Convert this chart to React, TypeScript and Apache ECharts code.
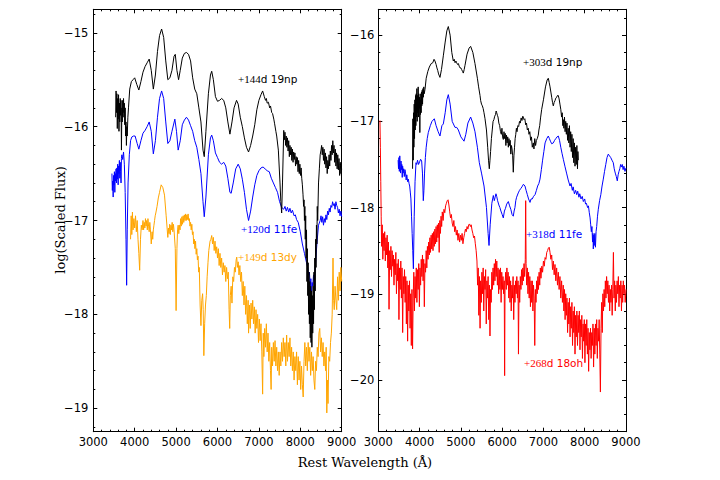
import React, { useEffect, useRef } from "react";
import * as echarts from "echarts";

// ---------- data (wavelength Å, log flux) ----------
const L_19NP: [number, number][] = [
  [3540,-15.9],[3550,-15.62],[3560,-15.85],[3570,-15.65],[3580,-16.02],[3590,-15.7],[3600,-15.92],[3610,-15.66],
  [3620,-16.05],[3630,-15.75],[3640,-15.95],[3650,-15.7],[3660,-15.88],[3670,-15.72],[3680,-16.25],[3690,-15.8],
  [3700,-15.95],[3710,-15.72],[3720,-15.9],[3730,-15.7],[3740,-15.85],[3750,-15.75],[3760,-15.98],[3770,-15.8],
  [3780,-16.1],[3790,-15.95],[3800,-16.2],[3810,-16.0],[3820,-16.1],[3835,-15.9],[3850,-15.8],[3880,-15.6],
  [3920,-15.52],[3960,-15.5],[4000,-15.48],[4050,-15.55],[4100,-15.61],[4150,-15.52],[4200,-15.42],[4250,-15.36],
  [4300,-15.32],[4350,-15.28],[4400,-15.4],[4450,-15.6],[4500,-15.45],[4550,-15.2],[4600,-15.03],[4650,-14.96],
  [4700,-15.05],[4750,-15.3],[4800,-15.5],[4850,-15.48],[4900,-15.4],[4950,-15.25],[4980,-15.23],[5020,-15.4],
  [5060,-15.5],[5100,-15.4],[5150,-15.27],[5200,-15.22],[5250,-15.21],[5300,-15.23],[5350,-15.3],[5400,-15.48],
  [5450,-15.6],[5500,-15.65],[5550,-15.8],[5600,-15.95],[5650,-16.25],[5680,-16.32],[5720,-16.05],[5780,-15.65],
  [5830,-15.45],[5860,-15.41],[5900,-15.5],[5950,-15.68],[6000,-15.73],[6050,-15.72],[6100,-15.7],[6150,-15.72],
  [6200,-15.8],[6250,-15.95],[6300,-16.08],[6350,-15.95],[6400,-15.8],[6460,-15.72],[6500,-15.76],[6550,-15.9],
  [6600,-16.0],[6650,-16.12],[6700,-16.22],[6750,-16.27],[6800,-16.2],[6850,-16.1],[6900,-15.98],[6950,-15.82],
  [7000,-15.72],[7050,-15.66],[7090,-15.62],[7130,-15.68],[7160,-15.72],[7180,-15.7],[7200,-15.75],[7230,-15.74],
  [7260,-15.8],[7280,-15.78],[7310,-15.85],[7330,-15.86],[7360,-15.92],[7380,-15.97],[7410,-16.05],[7430,-16.1],
  [7470,-16.25],[7510,-16.6],[7530,-16.8],[7550,-16.92],[7570,-16.6],[7600,-16.04],[7615,-16.14],[7630,-16.06],
  [7645,-16.2],[7660,-16.1],[7675,-16.22],[7690,-16.12],[7705,-16.26],[7720,-16.15],[7735,-16.32],[7750,-16.2],
  [7765,-16.3],[7780,-16.22],[7795,-16.36],[7810,-16.24],[7825,-16.38],[7840,-16.27],[7855,-16.35],[7870,-16.28],
  [7885,-16.42],[7900,-16.32],[7915,-16.4],[7930,-16.33],[7945,-16.48],[7960,-16.36],[7975,-16.5],[7990,-16.4],
  [8005,-16.52],[8020,-16.44],[8035,-16.55],[8050,-16.62],[8065,-16.72],[8080,-16.85],[8090,-16.78],[8100,-17.0],
  [8110,-16.85],[8120,-17.2],[8130,-16.95],[8140,-17.4],[8150,-17.1],[8160,-17.65],[8170,-17.3],[8180,-17.8],
  [8190,-17.45],[8200,-18.0],[8210,-17.55],[8220,-18.1],[8230,-17.65],[8240,-18.25],[8250,-17.7],[8260,-18.3],
  [8270,-17.75],[8280,-18.35],[8290,-17.8],[8300,-18.2],[8310,-17.7],[8320,-18.1],[8330,-17.55],[8340,-17.95],
  [8350,-17.4],[8360,-17.75],[8370,-17.2],[8380,-17.5],[8390,-17.05],[8400,-17.25],[8410,-16.85],[8420,-17.0],
  [8440,-16.6],[8460,-16.45],[8480,-16.3],[8500,-16.25],[8515,-16.2],[8530,-16.3],[8545,-16.22],[8560,-16.36],
  [8575,-16.24],[8590,-16.4],[8605,-16.28],[8620,-16.44],[8635,-16.32],[8650,-16.5],[8665,-16.36],[8680,-16.45],
  [8695,-16.3],[8710,-16.42],[8725,-16.26],[8740,-16.36],[8755,-16.2],[8770,-16.3],[8785,-16.15],[8800,-16.28],
  [8815,-16.2],[8830,-16.38],[8845,-16.24],[8860,-16.42],[8875,-16.28],[8890,-16.45],[8905,-16.3],[8920,-16.46],
  [8935,-16.34],[8950,-16.52],[8965,-16.38],[8980,-16.5],[9000,-16.45]
];

const L_11FE: [number, number][] = [
  [3450,-16.5],[3460,-16.68],[3470,-16.58],[3480,-16.75],[3490,-16.52],[3500,-16.62],[3510,-16.48],[3520,-16.7],
  [3530,-16.5],[3540,-16.58],[3550,-16.45],[3560,-16.6],[3570,-16.44],[3580,-16.56],[3590,-16.4],[3600,-16.62],
  [3610,-16.42],[3620,-16.5],[3630,-16.36],[3640,-16.55],[3650,-16.38],[3660,-16.48],[3670,-16.6],[3680,-16.34],
  [3690,-16.3],[3710,-16.35],[3730,-16.27],[3750,-16.4],[3770,-16.7],[3790,-17.2],[3805,-17.69],[3820,-17.1],
  [3840,-16.6],[3870,-16.3],[3900,-16.15],[3930,-16.11],[3970,-16.1],[4010,-16.1],[4060,-16.18],[4100,-16.24],
  [4150,-16.15],[4200,-16.07],[4250,-16.04],[4300,-16.0],[4350,-15.95],[4400,-16.05],[4450,-16.29],[4500,-16.15],
  [4550,-15.9],[4600,-15.7],[4650,-15.62],[4700,-15.7],[4750,-15.95],[4800,-16.18],[4850,-16.15],[4900,-16.05],
  [4970,-15.92],[5010,-16.05],[5050,-16.25],[5100,-16.15],[5150,-15.98],[5200,-15.93],[5250,-15.9],[5300,-15.93],
  [5350,-15.99],[5400,-16.05],[5450,-16.15],[5500,-16.22],[5550,-16.35],[5600,-16.5],[5650,-16.8],[5680,-16.96],
  [5720,-16.75],[5780,-16.3],[5830,-16.12],[5860,-16.09],[5900,-16.15],[5950,-16.28],[6000,-16.33],[6050,-16.38],
  [6100,-16.4],[6150,-16.38],[6200,-16.42],[6250,-16.55],[6300,-16.7],[6330,-16.71],[6380,-16.6],[6440,-16.45],
  [6500,-16.4],[6550,-16.45],[6600,-16.56],[6650,-16.7],[6700,-16.88],[6750,-17.0],[6800,-16.9],[6850,-16.75],
  [6900,-16.62],[6950,-16.52],[7000,-16.47],[7050,-16.44],[7100,-16.43],[7150,-16.45],[7200,-16.47],[7250,-16.48],
  [7300,-16.55],[7350,-16.6],[7400,-16.65],[7450,-16.7],[7500,-16.8],[7550,-16.86],[7600,-16.88],[7630,-16.85],
  [7660,-16.9],[7690,-16.86],[7720,-16.91],[7750,-16.87],[7780,-16.92],[7810,-16.89],[7850,-16.95],[7880,-16.94],
  [7910,-16.99],[7950,-17.02],[8000,-17.12],[8050,-17.25],[8100,-17.35],[8150,-17.45],[8180,-17.5],[8200,-17.58],
  [8220,-17.55],[8240,-17.7],[8255,-17.62],[8270,-17.78],[8285,-17.66],[8300,-17.7],[8320,-17.58],[8340,-17.64],
  [8370,-17.45],[8400,-17.25],[8440,-17.05],[8480,-17.0],[8500,-16.95],[8520,-17.02],[8540,-16.96],[8560,-17.05],
  [8580,-16.98],[8600,-17.02],[8620,-16.94],[8640,-16.99],[8660,-16.9],[8680,-16.94],[8700,-16.87],[8720,-16.91],
  [8740,-16.84],[8760,-16.86],[8780,-16.8],[8800,-16.84],[8820,-16.82],[8840,-16.88],[8860,-16.8],[8880,-16.84],
  [8900,-16.86],[8920,-16.92],[8940,-16.88],[8960,-16.95],[8980,-16.9],[9000,-16.96]
];

const L_13DY: [number, number][] = [
  [3900,-17.2],[3915,-16.95],[3930,-17.15],[3945,-16.91],[3960,-17.1],[3980,-16.98],[4000,-17.08],[4020,-16.95],
  [4040,-17.12],[4060,-17.0],[4080,-17.2],[4100,-17.35],[4120,-17.53],[4140,-17.2],[4160,-17.05],[4180,-17.1],
  [4200,-17.0],[4215,-17.1],[4230,-17.02],[4245,-17.08],[4260,-16.98],[4275,-17.06],[4290,-17.0],[4305,-17.1],
  [4320,-16.98],[4335,-17.06],[4350,-17.12],[4365,-17.02],[4380,-17.1],[4400,-17.25],[4420,-17.12],[4435,-17.2],
  [4450,-17.1],[4465,-17.05],[4480,-17.0],[4495,-16.95],[4510,-16.92],[4540,-16.85],[4570,-16.76],[4600,-16.7],
  [4640,-16.62],[4680,-16.65],[4720,-16.73],[4760,-16.95],[4800,-17.18],[4815,-17.08],[4830,-17.14],[4845,-17.04],
  [4860,-17.15],[4875,-17.05],[4890,-17.1],[4905,-17.02],[4920,-17.12],[4935,-17.04],[4950,-17.1],[4980,-17.3],
  [5000,-17.96],[5020,-17.3],[5035,-17.1],[5050,-17.05],[5065,-17.14],[5080,-17.05],[5095,-17.1],[5110,-16.98],
  [5125,-17.06],[5140,-16.96],[5155,-17.04],[5170,-16.95],[5185,-17.02],[5200,-16.94],[5215,-17.0],[5230,-16.93],
  [5245,-17.0],[5260,-16.94],[5275,-16.99],[5290,-16.93],[5305,-17.0],[5320,-16.98],[5335,-17.06],[5350,-17.02],
  [5365,-17.1],[5380,-17.04],[5395,-17.15],[5410,-17.12],[5425,-17.25],[5440,-17.2],[5455,-17.3],[5470,-17.22],
  [5485,-17.36],[5500,-17.3],[5515,-17.42],[5530,-17.38],[5545,-17.55],[5560,-17.5],[5580,-17.9],[5600,-18.12],
  [5620,-17.85],[5640,-17.78],[5655,-17.95],[5670,-18.44],[5690,-18.1],[5710,-17.9],[5730,-17.8],[5750,-17.6],
  [5770,-17.45],[5790,-17.32],[5820,-17.22],[5840,-17.2],[5860,-17.16],[5880,-17.25],[5900,-17.18],[5920,-17.32],
  [5940,-17.22],[5960,-17.35],[5980,-17.28],[6000,-17.4],[6020,-17.3],[6040,-17.48],[6060,-17.35],[6080,-17.5],
  [6100,-17.4],[6120,-17.58],[6140,-17.45],[6160,-17.55],[6180,-17.48],[6200,-17.65],[6220,-17.5],[6240,-17.62],
  [6260,-17.55],[6280,-17.95],[6295,-18.15],[6310,-17.8],[6330,-17.7],[6350,-17.88],[6370,-17.6],[6390,-17.65],
  [6410,-17.5],[6430,-17.55],[6450,-17.42],[6465,-17.39],[6480,-17.5],[6500,-17.44],[6520,-17.58],[6540,-17.48],
  [6560,-17.65],[6580,-17.55],[6600,-17.8],[6620,-17.65],[6640,-17.9],[6660,-17.7],[6680,-18.0],[6700,-17.8],
  [6720,-18.1],[6740,-17.85],[6750,-18.2],[6770,-17.9],[6790,-18.15],[6810,-17.88],[6830,-18.05],[6850,-17.85],
  [6870,-18.1],[6890,-17.92],[6910,-18.2],[6930,-17.95],[6950,-18.15],[6970,-18.0],[6990,-18.3],[7010,-18.05],
  [7030,-18.28],[7050,-18.1],[7070,-18.4],[7090,-18.85],[7105,-18.2],[7120,-18.45],[7140,-18.15],[7160,-18.35],
  [7180,-18.1],[7200,-18.4],[7220,-18.2],[7240,-18.5],[7260,-18.3],[7280,-18.6],[7295,-18.8],[7310,-18.35],
  [7330,-18.55],[7350,-18.3],[7370,-18.5],[7390,-18.28],[7410,-18.55],[7430,-18.35],[7450,-18.6],[7470,-18.4],
  [7490,-18.65],[7510,-18.4],[7530,-18.55],[7550,-18.3],[7570,-18.5],[7590,-18.25],[7610,-18.45],[7630,-18.3],
  [7650,-18.55],[7670,-18.22],[7690,-18.5],[7710,-18.3],[7730,-18.45],[7750,-18.25],[7770,-18.55],[7790,-18.35],
  [7810,-18.6],[7830,-18.4],[7850,-18.7],[7870,-18.45],[7890,-18.6],[7910,-18.4],[7930,-18.75],[7950,-18.45],
  [7970,-18.7],[7990,-18.5],[8010,-18.8],[8030,-18.55],[8050,-18.75],[8070,-18.88],[8090,-18.5],[8110,-18.3],
  [8130,-18.55],[8150,-18.35],[8170,-18.6],[8190,-18.3],[8210,-18.5],[8230,-18.35],[8250,-18.65],[8270,-18.4],
  [8290,-18.6],[8310,-18.45],[8330,-18.7],[8350,-18.8],[8370,-18.5],[8390,-18.6],[8410,-18.35],[8430,-18.45],
  [8450,-18.2],[8470,-18.15],[8490,-18.4],[8510,-18.25],[8530,-18.45],[8550,-18.3],[8570,-18.55],[8590,-18.4],
  [8610,-18.6],[8625,-18.35],[8640,-19.05],[8655,-18.7],[8670,-18.95],[8690,-18.45],[8710,-18.5],[8730,-18.3],
  [8750,-18.2],[8770,-18.0],[8790,-17.4],[8805,-17.85],[8820,-17.95],[8840,-17.7],[8860,-17.85],[8880,-17.95],
  [8900,-17.6],[8920,-17.85],[8940,-17.55],[8960,-17.75],[8980,-17.5],[9000,-17.65]
];

const R_19NP: [number, number][] = [
  [3830,-17.55],[3838,-16.97],[3846,-17.45],[3854,-16.9],[3862,-17.3],[3870,-16.8],[3878,-17.2],[3886,-16.75],
  [3894,-17.1],[3902,-16.7],[3910,-17.05],[3918,-16.68],[3926,-16.95],[3934,-16.62],[3942,-17.0],[3950,-16.7],
  [3958,-16.9],[3966,-16.6],[3974,-16.95],[3982,-16.68],[3990,-16.85],[3998,-16.72],[4006,-17.13],[4014,-16.75],
  [4022,-16.92],[4030,-16.68],[4038,-16.9],[4046,-16.66],[4054,-16.82],[4062,-16.64],[4072,-16.8],[4082,-16.62],
  [4092,-16.72],[4102,-16.6],[4112,-16.68],[4131,-16.63],[4160,-16.5],[4200,-16.42],[4236,-16.37],[4280,-16.33],
  [4320,-16.32],[4350,-16.28],[4373,-16.3],[4400,-16.34],[4420,-16.38],[4440,-16.41],[4460,-16.45],[4494,-16.49],
  [4530,-16.4],[4575,-16.24],[4620,-16.08],[4660,-15.95],[4696,-15.9],[4740,-16.0],[4780,-16.2],[4817,-16.3],
  [4840,-16.28],[4860,-16.32],[4880,-16.3],[4898,-16.32],[4920,-16.34],[4940,-16.33],[4960,-16.36],[4980,-16.38],
  [5000,-16.38],[5020,-16.4],[5040,-16.42],[5059,-16.44],[5080,-16.4],[5100,-16.35],[5150,-16.22],[5200,-16.15],
  [5237,-16.13],[5290,-16.2],[5342,-16.33],[5400,-16.5],[5430,-16.6],[5464,-16.7],[5480,-16.76],[5500,-16.8],
  [5520,-16.82],[5540,-16.85],[5560,-16.9],[5585,-16.97],[5620,-17.1],[5650,-17.3],[5670,-17.45],[5689,-17.55],
  [5705,-17.45],[5720,-17.35],[5740,-17.2],[5760,-17.1],[5780,-17.0],[5800,-16.98],[5820,-16.94],[5840,-16.92],
  [5855,-16.88],[5868,-16.9],[5885,-16.93],[5900,-16.95],[5920,-17.02],[5940,-17.05],[5960,-17.12],[5980,-17.15],
  [5995,-17.08],[6010,-17.18],[6028,-17.21],[6045,-17.12],[6060,-17.2],[6075,-17.14],[6090,-17.28],[6105,-17.16],
  [6120,-17.25],[6135,-17.18],[6150,-17.3],[6165,-17.2],[6180,-17.28],[6195,-17.22],[6210,-17.38],[6225,-17.28],
  [6240,-17.32],[6255,-17.4],[6270,-17.59],[6285,-17.4],[6300,-17.3],[6315,-17.2],[6330,-17.15],[6345,-17.08],
  [6360,-17.12],[6380,-17.05],[6400,-17.06],[6420,-17.0],[6440,-17.02],[6460,-16.96],[6480,-16.99],[6500,-16.94],
  [6512,-16.95],[6530,-16.98],[6550,-16.97],[6570,-17.04],[6590,-17.02],[6610,-17.1],[6633,-17.08],[6650,-17.15],
  [6670,-17.12],[6690,-17.22],[6710,-17.18],[6730,-17.3],[6755,-17.25],[6770,-17.32],[6790,-17.2],[6810,-17.28],
  [6830,-17.22],[6850,-17.2],[6875,-17.16],[6890,-17.1],[6910,-17.05],[6930,-16.96],[6958,-16.86],[7000,-16.75],
  [7050,-16.6],[7090,-16.52],[7118,-16.5],[7140,-16.55],[7160,-16.6],[7180,-16.66],[7200,-16.72],[7220,-16.78],
  [7239,-16.82],[7260,-16.78],[7280,-16.76],[7300,-16.73],[7320,-16.72],[7340,-16.7],[7360,-16.7],[7380,-16.74],
  [7400,-16.8],[7420,-16.86],[7440,-16.95],[7455,-16.9],[7470,-17.05],[7482,-16.98],[7495,-17.08],[7510,-16.95],
  [7525,-17.12],[7540,-17.0],[7555,-17.15],[7570,-17.02],[7585,-17.22],[7600,-17.08],[7615,-17.25],[7630,-17.05],
  [7645,-17.3],[7660,-17.12],[7675,-17.35],[7690,-17.15],[7705,-17.42],[7720,-17.2],[7735,-17.48],[7750,-17.25],
  [7765,-17.52],[7780,-17.3],[7795,-17.5],[7810,-17.28],[7825,-17.55],[7835,-17.35],[7845,-17.45]
];

const R_11FE: [number, number][] = [
  [3480,-17.45],[3490,-17.55],[3500,-17.42],[3510,-17.58],[3520,-17.4],[3530,-17.52],[3540,-17.6],[3550,-17.46],
  [3560,-17.56],[3570,-17.5],[3580,-17.65],[3590,-17.52],[3600,-17.6],[3615,-17.55],[3630,-17.64],[3645,-17.56],
  [3660,-17.6],[3675,-17.68],[3690,-17.62],[3710,-17.7],[3727,-17.67],[3745,-17.72],[3760,-17.75],[3775,-17.82],
  [3790,-17.9],[3805,-18.1],[3820,-18.3],[3835,-18.5],[3850,-18.71],[3870,-18.1],[3890,-17.7],[3913,-17.48],
  [3930,-17.5],[3950,-17.45],[3975,-17.5],[4000,-17.47],[4025,-17.44],[4050,-17.46],[4070,-17.6],[4090,-17.92],
  [4105,-17.8],[4120,-17.6],[4140,-17.42],[4160,-17.3],[4185,-17.2],[4211,-17.13],[4260,-17.05],[4300,-17.0],
  [4357,-16.97],[4400,-17.05],[4450,-17.12],[4494,-17.17],[4540,-17.05],[4575,-17.03],[4620,-16.9],[4660,-16.75],
  [4696,-16.69],[4740,-16.8],[4790,-17.0],[4858,-17.07],[4900,-17.07],[4939,-17.1],[5000,-17.18],[5076,-17.23],
  [5120,-17.15],[5170,-17.02],[5237,-16.95],[5290,-17.02],[5342,-17.12],[5400,-17.3],[5447,-17.48],[5500,-17.6],
  [5561,-17.75],[5620,-18.0],[5660,-18.3],[5682,-18.44],[5710,-18.2],[5750,-17.95],[5786,-17.86],[5810,-17.92],
  [5830,-17.88],[5850,-17.84],[5868,-17.87],[5890,-17.92],[5920,-17.97],[5945,-18.0],[5970,-18.04],[6000,-18.08],
  [6028,-18.12],[6055,-18.04],[6080,-18.01],[6110,-17.96],[6150,-17.93],[6180,-17.98],[6210,-18.02],[6240,-18.08],
  [6270,-18.1],[6290,-18.04],[6310,-18.0],[6330,-17.92],[6350,-17.88],[6390,-17.83],[6420,-17.8],[6450,-17.78],
  [6480,-17.76],[6515,-17.73],[6553,-17.75],[6580,-17.8],[6610,-17.85],[6640,-17.9],[6675,-17.94],[6700,-17.9],
  [6730,-17.9],[6760,-17.87],[6797,-17.85],[6830,-17.8],[6860,-17.75],[6890,-17.72],[6917,-17.67],[6950,-17.56],
  [6980,-17.45],[7010,-17.35],[7040,-17.25],[7080,-17.2],[7118,-17.17],[7145,-17.2],[7170,-17.23],[7200,-17.26],
  [7239,-17.25],[7270,-17.22],[7300,-17.2],[7330,-17.18],[7360,-17.17],[7390,-17.22],[7420,-17.3],[7450,-17.37],
  [7482,-17.44],[7520,-17.52],[7560,-17.6],[7600,-17.68],[7644,-17.75],[7670,-17.72],[7700,-17.8],[7720,-17.76],
  [7750,-17.84],[7780,-17.8],[7806,-17.85],[7830,-17.81],[7860,-17.88],[7880,-17.84],[7910,-17.9],[7940,-17.87],
  [7967,-17.93],[8000,-17.9],[8020,-17.96],[8040,-17.95],[8070,-18.0],[8090,-17.98],[8111,-18.06],[8130,-18.12],
  [8145,-18.2],[8160,-18.28],[8175,-18.22],[8190,-18.4],[8200,-18.3],[8208,-18.48],[8220,-18.32],[8230,-18.44],
  [8245,-18.3],[8260,-18.46],[8275,-18.28],[8290,-18.22],[8310,-18.1],[8329,-18.02],[8360,-17.92],[8390,-17.85],
  [8420,-17.75],[8450,-17.67],[8480,-17.58],[8510,-17.5],[8540,-17.42],[8571,-17.38],[8600,-17.4],[8630,-17.42],
  [8660,-17.45],[8692,-17.48],[8715,-17.55],[8740,-17.6],[8765,-17.64],[8789,-17.69],[8810,-17.62],[8830,-17.58],
  [8850,-17.55],[8870,-17.5],[8890,-17.53],[8910,-17.5],[8930,-17.56],[8950,-17.52],[8975,-17.58],[9000,-17.54]
];

const R_18OH: [number, number][] = [
  [3040,-16.99],[3050,-17.3],[3060,-17.7],[3070,-18.1],[3080,-18.45],[3095,-18.2],[3110,-18.6],[3125,-18.3],
  [3140,-18.5],[3155,-18.28],[3170,-18.62],[3185,-18.35],[3200,-18.55],[3215,-18.32],[3230,-18.7],[3245,-18.4],
  [3260,-19.18],[3275,-18.5],[3290,-18.72],[3305,-18.45],[3320,-18.8],[3335,-18.5],[3350,-18.68],[3365,-18.55],
  [3380,-18.9],[3395,-18.6],[3410,-18.78],[3425,-18.52],[3440,-19.0],[3455,-18.65],[3470,-18.85],[3485,-18.6],
  [3500,-19.3],[3515,-18.7],[3530,-18.95],[3545,-18.62],[3560,-19.05],[3575,-18.7],[3590,-19.45],[3605,-18.8],
  [3620,-19.0],[3635,-18.72],[3650,-19.1],[3665,-18.8],[3680,-19.35],[3695,-18.85],[3710,-19.55],[3725,-18.9],
  [3740,-19.2],[3755,-18.85],[3770,-19.4],[3785,-19.0],[3800,-19.6],[3815,-18.95],[3830,-19.64],[3845,-19.05],
  [3860,-18.75],[3875,-19.2],[3890,-18.8],[3905,-19.05],[3920,-18.7],[3935,-19.1],[3950,-18.72],[3965,-18.95],
  [3980,-18.65],[3995,-19.15],[4010,-18.7],[4025,-18.9],[4040,-18.6],[4055,-18.8],[4070,-18.55],[4085,-18.85],
  [4100,-18.6],[4115,-19.15],[4130,-18.65],[4145,-18.75],[4160,-18.5],[4175,-18.7],[4190,-18.45],[4205,-18.6],
  [4220,-18.4],[4235,-18.55],[4250,-18.35],[4265,-18.52],[4280,-18.32],[4295,-18.48],[4310,-18.3],[4325,-18.5],
  [4340,-18.28],[4355,-18.45],[4370,-18.25],[4385,-18.42],[4400,-18.22],[4415,-18.4],[4430,-18.2],[4445,-18.35],
  [4460,-18.18],[4475,-18.52],[4490,-18.15],[4505,-18.3],[4520,-18.1],[4535,-18.22],[4550,-18.05],[4570,-18.15],
  [4590,-18.02],[4610,-18.06],[4630,-17.98],[4650,-17.95],[4670,-17.92],[4690,-17.91],[4710,-17.97],[4730,-18.05],
  [4750,-18.12],[4770,-18.08],[4790,-18.18],[4810,-18.22],[4830,-18.15],[4850,-18.28],[4870,-18.22],[4890,-18.32],
  [4910,-18.26],[4930,-18.38],[4950,-18.3],[4970,-18.4],[4990,-18.32],[5010,-18.38],[5030,-18.3],[5050,-18.42],
  [5070,-18.35],[5090,-18.3],[5110,-18.25],[5130,-18.28],[5150,-18.22],[5170,-18.25],[5190,-18.2],[5210,-18.19],
  [5230,-18.22],[5250,-18.2],[5270,-18.26],[5290,-18.3],[5310,-18.35],[5330,-18.33],[5350,-18.42],[5370,-18.5],
  [5390,-18.62],[5405,-18.9],[5420,-18.7],[5435,-19.25],[5450,-18.8],[5465,-19.4],[5480,-18.85],[5495,-19.1],
  [5510,-18.75],[5525,-19.0],[5540,-18.7],[5555,-19.2],[5570,-18.8],[5585,-18.95],[5600,-18.72],[5615,-19.35],
  [5630,-18.85],[5645,-19.05],[5660,-18.8],[5675,-19.3],[5690,-18.9],[5705,-19.49],[5720,-18.95],[5735,-19.1],
  [5750,-18.75],[5765,-18.95],[5780,-18.7],[5795,-18.9],[5810,-18.65],[5825,-18.85],[5840,-18.6],[5855,-18.8],
  [5870,-18.62],[5885,-18.9],[5900,-18.7],[5915,-19.0],[5930,-18.72],[5945,-18.95],[5960,-18.7],[5975,-19.1],
  [5990,-18.75],[6005,-18.95],[6020,-18.8],[6035,-19.0],[6050,-18.85],[6060,-19.95],[6070,-18.9],[6085,-18.75],
  [6100,-18.95],[6115,-18.7],[6130,-18.9],[6145,-18.75],[6160,-19.05],[6175,-18.8],[6190,-19.1],[6205,-18.85],
  [6220,-19.2],[6235,-18.9],[6250,-19.05],[6265,-18.8],[6280,-19.3],[6295,-18.9],[6310,-19.1],[6325,-18.85],
  [6340,-19.0],[6355,-18.8],[6370,-19.05],[6385,-18.85],[6395,-19.7],[6410,-18.9],[6425,-19.1],[6440,-18.8],
  [6455,-18.95],[6470,-18.72],[6485,-18.9],[6500,-18.7],[6515,-18.85],[6530,-18.65],[6545,-18.8],[6560,-18.6],
  [6570,-17.92],[6580,-18.65],[6595,-18.9],[6610,-18.7],[6625,-19.0],[6640,-18.75],[6655,-19.05],[6670,-18.8],
  [6685,-19.15],[6700,-18.85],[6715,-19.1],[6730,-18.85],[6745,-19.2],[6760,-18.9],[6775,-19.05],[6790,-19.6],
  [6805,-18.95],[6820,-19.1],[6835,-18.85],[6850,-19.0],[6865,-18.8],[6880,-18.95],[6895,-18.75],[6910,-18.9],
  [6925,-18.7],[6940,-18.82],[6960,-18.68],[6980,-18.75],[7000,-18.62],[7020,-18.68],[7040,-18.58],[7060,-18.6],
  [7080,-18.52],[7100,-18.5],[7120,-18.47],[7140,-18.46],[7160,-18.52],[7180,-18.6],[7200,-18.55],[7220,-18.72],
  [7240,-18.62],[7260,-18.78],[7280,-18.66],[7300,-18.85],[7320,-18.7],[7340,-18.9],[7360,-18.75],[7380,-18.95],
  [7400,-18.8],[7420,-19.05],[7440,-18.85],[7460,-19.1],[7480,-18.9],[7495,-19.2],[7510,-18.95],[7525,-19.3],
  [7540,-19.0],[7555,-19.25],[7570,-19.05],[7585,-19.45],[7600,-19.1],[7615,-19.35],[7630,-19.05],[7645,-19.5],
  [7660,-19.15],[7675,-19.4],[7690,-19.1],[7705,-19.6],[7720,-19.2],[7735,-19.45],[7750,-19.15],[7765,-19.7],
  [7780,-19.25],[7795,-19.5],[7810,-19.2],[7825,-19.6],[7840,-19.25],[7855,-19.45],[7870,-19.2],[7885,-19.65],
  [7900,-19.3],[7915,-19.5],[7930,-19.25],[7945,-19.75],[7960,-19.35],[7975,-19.55],[7990,-19.3],[8005,-19.8],
  [8020,-19.35],[8035,-19.6],[8050,-19.3],[8065,-19.7],[8080,-19.4],[8095,-19.9],[8110,-19.45],[8125,-19.65],
  [8140,-19.4],[8155,-19.75],[8170,-19.45],[8185,-19.6],[8200,-19.35],[8215,-19.85],[8230,-19.4],[8245,-19.7],
  [8260,-19.35],[8275,-19.6],[8290,-19.3],[8305,-19.75],[8320,-19.4],[8335,-19.55],[8350,-19.3],[8365,-19.7],
  [8380,-20.14],[8395,-19.4],[8410,-19.1],[8425,-19.45],[8440,-19.0],[8455,-19.2],[8470,-18.95],[8485,-19.15],
  [8500,-18.85],[8515,-19.05],[8530,-18.8],[8545,-19.0],[8560,-18.85],[8575,-19.1],[8590,-18.9],[8605,-19.2],
  [8620,-18.95],[8635,-19.1],[8650,-18.9],[8665,-19.25],[8680,-18.95],[8695,-18.52],[8710,-19.05],[8725,-18.85],
  [8740,-19.2],[8755,-18.9],[8770,-19.1],[8785,-18.85],[8800,-19.0],[8815,-18.8],[8830,-19.15],[8845,-18.9],
  [8860,-19.05],[8875,-18.85],[8890,-19.2],[8905,-18.9],[8920,-19.1],[8935,-18.85],[8950,-19.0],[8965,-18.9],
  [8980,-19.1],[9000,-18.95]
];

// ---------- ticks ----------
const L_Y_MAJOR = [-19, -18, -17, -16, -15];
const L_Y_MINOR = [-19.2, -18.8, -18.6, -18.4, -18.2, -17.8, -17.6, -17.4, -17.2, -16.8, -16.6, -16.4, -16.2, -15.8, -15.6, -15.4, -15.2, -14.8];
const R_Y_MAJOR = [-20, -19, -18, -17, -16];
const R_Y_MINOR = [-20.4, -20.2, -19.8, -19.6, -19.4, -19.2, -18.8, -18.6, -18.4, -18.2, -17.8, -17.6, -17.4, -17.2, -16.8, -16.6, -16.4, -16.2, -15.8];
const L_Y_RANGE = [-19.25, -14.75];
const R_Y_RANGE = [-20.6, -15.7];
const X_RANGE = [3000, 9000];

const TICK_FONT = "DejaVu Sans";
const SERIF = "DejaVu Serif";

const fmtMinus = (v: number) => String(v).replace("-", "\u2212");

function xAxes(grid: number) {
  const base = {
    gridIndex: grid,
    type: "value",
    min: X_RANGE[0],
    max: X_RANGE[1],
    interval: 1000,
    splitLine: { show: false },
    axisLine: { show: true, onZero: false, lineStyle: { color: "#000", width: 1 } },
    axisTick: { show: true, inside: true, length: 4, lineStyle: { color: "#000" } },
    minorTick: { show: true, splitNumber: 5, length: 2, lineStyle: { color: "#000" } },
  };
  return [
    {
      ...base,
      position: "bottom",
      axisLabel: {
        show: true, margin: 4, color: "#000", fontFamily: TICK_FONT, fontSize: 11.5,
        showMinLabel: true, showMaxLabel: true, formatter: (v: number) => String(v),
      },
    },
    { ...base, position: "top", axisLabel: { show: false } },
  ];
}

function yAxes(grid: number, range: number[], major: number[], minor: number[], labelMargin: number) {
  const base = {
    gridIndex: grid,
    type: "value",
    min: range[0],
    max: range[1],
    splitLine: { show: false },
    axisLine: { show: true, onZero: false, lineStyle: { color: "#000", width: 1 } },
  };
  const mk = (pos: string, isMajor: boolean, labels: boolean) => ({
    ...base,
    position: pos,
    axisLine: isMajor ? base.axisLine : { show: false },
    axisTick: {
      show: true,
      inside: true,
      length: isMajor ? 4 : 2,
      customValues: isMajor ? major : minor,
      lineStyle: { color: "#000" },
    },
    axisLabel: labels
      ? { show: true, customValues: major, margin: labelMargin, color: "#000", fontFamily: TICK_FONT, fontSize: 11.5, formatter: fmtMinus }
      : { show: false },
  });
  return [mk("left", true, true), mk("left", false, false), mk("right", true, false), mk("right", false, false)];
}

function lineSeries(data: [number, number][], color: string, xi: number, yi: number) {
  return {
    type: "line",
    data,
    xAxisIndex: xi,
    yAxisIndex: yi,
    showSymbol: false,
    symbol: "none",
    lineStyle: { color, width: 1 },
    silent: true,
  };
}

function label(x: number, y: number, days: string, rest: string, color: string) {
  return {
    type: "text",
    x,
    y,
    silent: true,
    style: {
      text: `{a|${days}}{b|${rest}}`,
      verticalAlign: "middle",
      align: "left",
      rich: {
        a: { fontFamily: "Liberation Serif", fontSize: 11, fill: color },
        b: { fontFamily: TICK_FONT, fontSize: 10.5, fill: color },
      },
    },
  };
}

export default function App() {
  const ref = useRef<HTMLDivElement>(null);
  useEffect(() => {
    if (!ref.current) return;
    const chart = echarts.init(ref.current, undefined, { renderer: "svg", width: 720, height: 480 });
    chart.setOption({
      animation: false,
      backgroundColor: "#fff",
      grid: [
        { left: 93.3, top: 9.3, width: 248.4, height: 422.4, show: false },
        { left: 378.3, top: 9.3, width: 247.7, height: 422.4, show: false },
      ],
      xAxis: [...xAxes(0), ...xAxes(1)],
      yAxis: [
        ...yAxes(0, L_Y_RANGE, L_Y_MAJOR, L_Y_MINOR, 5),
        ...yAxes(1, R_Y_RANGE, R_Y_MAJOR, R_Y_MINOR, 4),
      ],
      series: [
        lineSeries(L_13DY, "#ffa500", 0, 0),
        lineSeries(L_11FE, "#0000ff", 0, 0),
        lineSeries(L_19NP, "#000000", 0, 0),
        lineSeries(R_18OH, "#ff0000", 2, 4),
        lineSeries(R_11FE, "#0000ff", 2, 4),
        lineSeries(R_19NP, "#000000", 2, 4),
      ],
      graphic: [
        label(238, 79, "+144", "d 19np", "#000000"),
        label(241, 229, "+120", "d 11fe", "#0000ff"),
        label(238, 257, "+149", "d 13dy", "#ffa500"),
        label(523, 62, "+303", "d 19np", "#000000"),
        label(526, 234, "+318", "d 11fe", "#0000ff"),
        label(524, 363, "+268", "d 18oh", "#ff0000"),
        {
          type: "text",
          x: 365,
          y: 462,
          silent: true,
          style: { text: "Rest Wavelength (\u00c5)", font: `13px "${SERIF}"`, fill: "#000", align: "center", verticalAlign: "middle" },
        },
        {
          type: "text",
          x: 60,
          y: 220,
          rotation: Math.PI / 2,
          silent: true,
          style: { text: "log(Scaled Flux)", font: `13px "${SERIF}"`, fill: "#000", align: "center", verticalAlign: "middle" },
        },
      ],
    });
    return () => chart.dispose();
  }, []);
  return <div ref={ref} style={{ position: "fixed", left: 0, top: 0, width: 720, height: 480, background: "#fff" }} />;
}
